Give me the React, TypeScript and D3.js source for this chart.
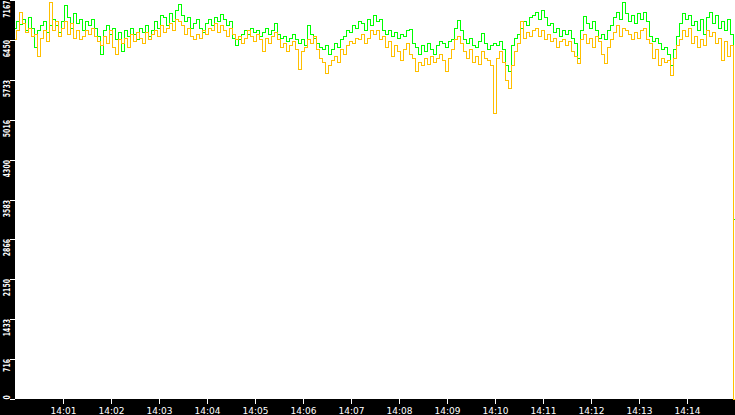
import React from "react";
import * as d3 from "d3";

// ---- data ----
const startTime = new Date(2024, 0, 1, 14, 0, 0);
const endTime = new Date(2024, 0, 1, 14, 15, 0);
const sampleMs = 3750;

const greenValues: number[] = [
  6664, 6772, 6718, 6808, 6628, 6844, 6664, 6305, 6628, 6700,
  6772, 6592, 6700, 6808, 6700, 6592, 6772, 7077, 6844, 6664,
  6916, 6736, 6808, 6628, 6772, 6700, 6808, 6664, 6520, 6197,
  6628, 6700, 6556, 6664, 6449, 6592, 6233, 6628, 6520, 6664,
  6556, 6449, 6664, 6592, 6700, 6520, 6628, 6772, 6664, 6880,
  6844, 6700, 6916, 6772, 6987, 7095, 6880, 6772, 6844, 6664,
  6736, 6808, 6664, 6592, 6736, 6808, 6700, 6844, 6772, 6898,
  6808, 6700, 6772, 6484, 6341, 6449, 6556, 6628, 6556, 6664,
  6592, 6628, 6520, 6592, 6664, 6556, 6628, 6736, 6556, 6484,
  6520, 6413, 6484, 6556, 6449, 6377, 6449, 6341, 6700, 6556,
  6484, 6377, 6305, 6269, 6341, 6197, 6269, 6377, 6305, 6449,
  6520, 6628, 6592, 6700, 6664, 6772, 6736, 6628, 6808, 6700,
  6880, 6772, 6808, 6628, 6556, 6628, 6520, 6592, 6484, 6556,
  6520, 6628, 6646, 6377, 6305, 6197, 6341, 6233, 6377, 6269,
  6197, 6341, 6413, 6377, 6305, 6413, 6449, 6664, 6790, 6628,
  6449, 6377, 6484, 6341, 6305, 6413, 6574, 6377, 6269, 6341,
  6377, 6341, 6413, 6269, 5982, 5874, 6341, 6484, 6556, 6664,
  6772, 6700, 6844, 6880, 6951, 6808, 6987, 6844, 6700, 6736,
  6592, 6664, 6520, 6628,
  6556, 6628, 6484, 6377, 6125, 6628, 6862, 6736, 6664, 6772,
  6628, 6484, 6556, 6449, 6628, 6700, 6844, 6951, 6808, 7131,
  6916, 6772, 6880, 6736, 6916, 6808, 6951, 6772, 6520, 6413,
  6484, 6377, 6269, 6305, 6197, 5982, 6269, 6520, 6736, 6916,
  6808, 6880, 6700, 6772, 6628, 6808, 6556, 6844, 6951, 6736,
  6880, 6664, 6772, 6628, 6808, 6556,
  3233,
];

const goldValues: number[] = [
  6449, 6628, 6951, 6736, 6592, 6664, 6520, 6556, 6161, 6484,
  6628, 6413, 7131, 6628, 6772, 6520, 6664, 6772, 6556, 6736,
  6484, 6628, 6449, 6520, 6628, 6556, 6664, 6520, 6413, 6341,
  6520, 6377, 6628, 6305, 6197, 6449, 6377, 6484, 6305, 6556,
  6413, 6592, 6484, 6377, 6592, 6449, 6556, 6628, 6520, 6700,
  6592, 6664, 6736, 6628, 6808, 6772, 6700, 6556, 6664, 6520,
  6449, 6556, 6484, 6628, 6556, 6664, 6628, 6736, 6592, 6700,
  6628, 6520, 6664, 6556, 6449, 6520, 6377, 6484, 6628, 6520,
  6413, 6556, 6449, 6233, 6484, 6377, 6520, 6592, 6449, 6305,
  6377, 6233, 6341, 6413, 6269, 5910, 6233, 6305, 6449, 6377,
  6520, 6269, 6125, 6053, 5838, 5982, 6089, 6161, 6053, 6269,
  6197, 6341, 6413, 6377, 6484, 6449, 6556, 6377, 6484, 6628,
  6556, 6628, 6449, 6520, 6305, 6413, 6161, 6341, 6233, 6089,
  6269, 6377, 6197, 6125, 5874, 6053, 5982, 6125, 6017, 6161,
  6053, 6125, 6197, 6089, 5874, 6125, 6269, 6449, 6520, 6377,
  6233, 6125, 6269, 6053, 6161, 6017, 6233, 6125, 6089, 5982,
  5137, 6125, 6233, 6053, 5730, 5586, 5982, 6233, 6377, 6772,
  6484, 6592, 6520, 6628, 6664, 6520, 6628, 6449, 6556, 6413,
  6484, 6305, 6413, 6449,
  6341, 6413, 6233, 6161, 6035, 6449, 6556, 6377, 6484, 6305,
  6520, 6413, 6197, 6035, 6305, 6449, 6592, 6700, 6520, 6664,
  6628, 6556, 6449, 6592, 6484, 6628, 6664, 6449, 6377, 6125,
  6269, 5982, 6125, 6053, 6089, 5802, 6125, 6341, 6449, 6628,
  6520, 6664, 6377, 6520, 6305, 6449, 6341, 6628, 6520, 6592,
  6377, 6484, 6089, 6413, 6161, 6341,
  0,
];

const yTickValues = [0, 716, 1433, 2150, 2866, 3583, 4300, 5016, 5733, 6450, 7167];
const yTickLabels = ["0", "716", "1433", "2150", "2866", "3583", "4300", "5016", "5733", "6450", "7167"];
const yMax = 7167;

// ---- layout ----
const W = 735;
const H = 415;
const plotLeft = 15;
const plotRight = 735;
const plotTop = 0;
const plotBottom = 399;

export default function App() {
  const times = greenValues.map((_, i) => new Date(startTime.getTime() + i * sampleMs));

  const x = d3.scaleTime().domain([startTime, endTime]).range([plotLeft, plotRight]);
  const y = d3.scaleLinear().domain([0, yMax]).range([plotBottom, plotTop]);

  const makeLine = (vals: number[]) =>
    d3
      .line<number>()
      .x((_, i) => x(times[i]))
      .y((v) => y(v))
      .curve(d3.curveStep)(vals) || "";

  const xTicks = d3.timeMinute.range(
    new Date(startTime.getTime() + 60000),
    endTime
  );
  const fmt = d3.timeFormat("%H:%M");

  return (
    <>
      <style>{`body{margin:0;background:#fff}`}</style>
      <svg
        width={W}
        height={H}
        viewBox={`0 0 ${W} ${H}`}
        style={{ display: "block" }}
      >
        <rect x={0} y={0} width={W} height={H} fill="#000" />
        <rect
          x={plotLeft}
          y={plotTop}
          width={plotRight - plotLeft}
          height={plotBottom - plotTop}
          fill="#fff"
        />
        <g shapeRendering="crispEdges">
          <path d={makeLine(greenValues)} fill="none" stroke="#00ff00" strokeWidth={1} />
          <path d={makeLine(goldValues)} fill="none" stroke="#ffbf00" strokeWidth={1} />
        </g>
        {/* y axis */}
        <g fill="#fff" fontFamily="DejaVu Sans" fontSize={9.3} fontWeight="bold">
          {yTickValues.map((v, i) => {
            const ty = Math.round(y(v)) + 0.5;
            const label = yTickLabels[i];
            const isZero = v === 0;
            return (
              <g key={"y" + i}>
                <line
                  x1={10}
                  x2={15}
                  y1={ty}
                  y2={ty}
                  stroke="#fff"
                  strokeWidth={1}
                  shapeRendering="crispEdges"
                />
                <text
                  transform={`translate(9.5,${isZero ? 399.5 : Math.max(ty - 0.5, 0.5)}) rotate(-90)`}
                  textAnchor={isZero ? "start" : "end"}
                  textLength={label.length * 4.3}
                  lengthAdjust="spacingAndGlyphs"
                >
                  {label}
                </text>
              </g>
            );
          })}
        </g>
        {/* x axis */}
        <g fill="#fff" fontFamily="DejaVu Sans" fontSize={9}>
          {xTicks.map((t, i) => {
            const tx = Math.round(x(t)) + 0.5;
            return (
              <g key={"x" + i}>
                <line
                  x1={tx}
                  x2={tx}
                  y1={399}
                  y2={404}
                  stroke="#fff"
                  strokeWidth={1}
                  shapeRendering="crispEdges"
                />
                <text x={tx} y={414} textAnchor="middle">
                  {fmt(t)}
                </text>
              </g>
            );
          })}
        </g>
      </svg>
    </>
  );
}
